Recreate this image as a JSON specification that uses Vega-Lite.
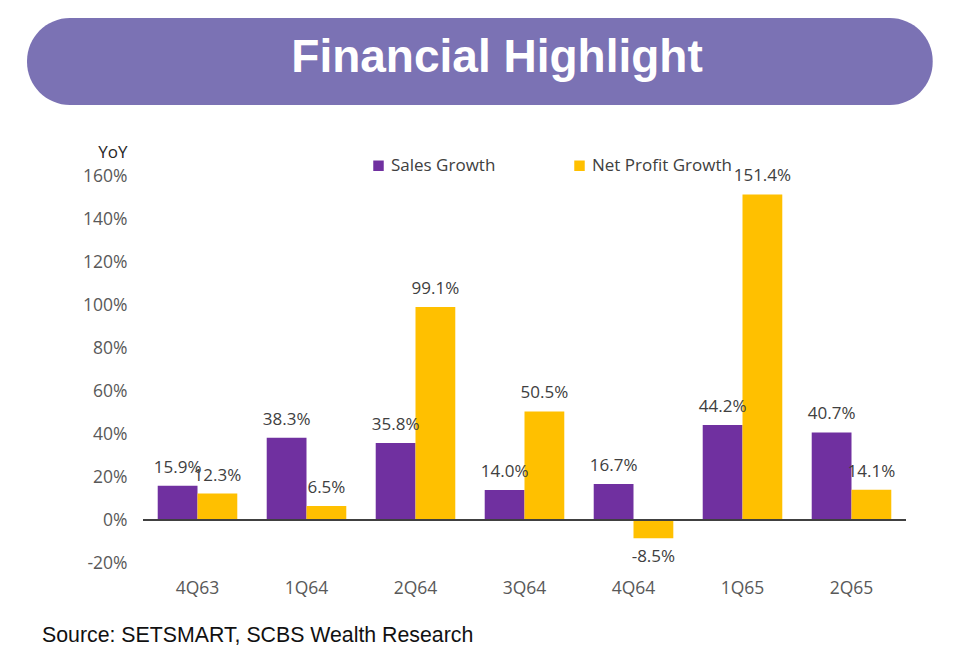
{
  "$schema": "https://vega.github.io/schema/vega-lite/v6.json",
  "autosize": {"type": "pad"},
  "padding": {"left": 27, "right": 33, "top": 18, "bottom": 8},
  "background": "white",
  "spacing": 38,
  "title": {
    "text": "Source: SETSMART, SCBS Wealth Research",
    "orient": "bottom",
    "anchor": "start",
    "frame": "bounds",
    "dx": 15,
    "offset": 28,
    "font": "Liberation Sans",
    "fontSize": 21.3,
    "fontWeight": "normal",
    "color": "#111111"
  },
  "vconcat": [
    {
      "width": 763,
      "height": 87,
      "data": {"values": [{}]},
      "layer": [
        {
          "mark": {"type": "rect", "color": "#7b72b4", "cornerRadius": 43},
          "encoding": {
            "x": {"datum": -15.2, "type": "quantitative", "scale": {"domain": [0, 100], "nice": false, "zero": false}, "axis": null},
            "x2": {"datum": 103.5},
            "y": {"datum": 0, "type": "quantitative", "scale": {"domain": [0, 1], "nice": false}, "axis": null},
            "y2": {"datum": 1}
          }
        },
        {
          "mark": {"type": "text", "text": "Financial Highlight", "font": "Liberation Sans", "fontWeight": "bold", "fontSize": 46, "color": "white", "align": "center", "baseline": "alphabetic"},
          "encoding": {
            "x": {"datum": 46.4, "type": "quantitative"},
            "y": {"datum": 0.38, "type": "quantitative"}
          }
        }
      ]
    },
    {
      "width": 763,
      "height": 387,
      "data": {
        "values": [
          {"quarter": "4Q63", "series": "Sales Growth", "value": 0.159},
          {"quarter": "4Q63", "series": "Net Profit Growth", "value": 0.123},
          {"quarter": "1Q64", "series": "Sales Growth", "value": 0.383},
          {"quarter": "1Q64", "series": "Net Profit Growth", "value": 0.065},
          {"quarter": "2Q64", "series": "Sales Growth", "value": 0.358},
          {"quarter": "2Q64", "series": "Net Profit Growth", "value": 0.991},
          {"quarter": "3Q64", "series": "Sales Growth", "value": 0.140},
          {"quarter": "3Q64", "series": "Net Profit Growth", "value": 0.505},
          {"quarter": "4Q64", "series": "Sales Growth", "value": 0.167},
          {"quarter": "4Q64", "series": "Net Profit Growth", "value": -0.085},
          {"quarter": "1Q65", "series": "Sales Growth", "value": 0.442},
          {"quarter": "1Q65", "series": "Net Profit Growth", "value": 1.514},
          {"quarter": "2Q65", "series": "Sales Growth", "value": 0.407},
          {"quarter": "2Q65", "series": "Net Profit Growth", "value": 0.141}
        ]
      },
      "encoding": {
        "x": {
          "field": "quarter",
          "type": "nominal",
          "sort": null,
          "scale": {"paddingInner": 0.27, "paddingOuter": 0.135},
          "axis": {"title": null, "labelAngle": 0, "ticks": false, "domain": false, "labelPadding": 16, "labelFontSize": 17.5, "labelColor": "#595959"}
        },
        "xOffset": {"field": "series", "type": "nominal", "sort": ["Sales Growth", "Net Profit Growth"]},
        "y": {
          "field": "value",
          "type": "quantitative",
          "scale": {"domain": [-0.2, 1.6], "nice": false},
          "axis": {
            "values": [-0.2, 0, 0.2, 0.4, 0.6, 0.8, 1.0, 1.2, 1.4, 1.6],
            "format": ".0%",
            "grid": false,
            "domain": false,
            "ticks": false,
            "labelPadding": 16,
            "labelFontSize": 17.5,
            "labelColor": "#595959",
            "title": "YoY",
            "titleAngle": 0,
            "titleAlign": "right",
            "titleBaseline": "middle",
            "titleX": -16,
            "titleY": -24,
            "titleFontSize": 17,
            "titleFontWeight": "normal",
            "titleColor": "#262626"
          }
        },
        "color": {
          "field": "series",
          "type": "nominal",
          "scale": {"domain": ["Sales Growth", "Net Profit Growth"], "range": ["#7030a0", "#ffc000"]},
          "legend": {
            "title": null,
            "orient": "none",
            "direction": "horizontal",
            "legendX": 227,
            "legendY": 139,
            "padding": 0,
            "symbolType": "square",
            "symbolSize": 110,
            "symbolStrokeWidth": 0,
            "labelFontSize": 17,
            "labelColor": "#404040",
            "labelOffset": 4,
            "columnPadding": 75
          }
        }
      },
      "layer": [
        {"mark": {"type": "bar"}},
        {
          "transform": [{"filter": "datum.value >= 0"}],
          "mark": {"type": "text", "baseline": "alphabetic", "dy": -13, "fontSize": 17, "color": "#404040"},
          "encoding": {"text": {"field": "value", "type": "quantitative", "format": ".1%"}, "color": {"value": "#404040"}}
        },
        {
          "transform": [{"filter": "datum.value < 0"}],
          "mark": {"type": "text", "baseline": "top", "dy": 11, "fontSize": 17, "color": "#404040"},
          "encoding": {"text": {"field": "value", "type": "quantitative", "format": ".1%"}, "color": {"value": "#404040"}}
        },
        {
          "mark": {"type": "rule", "color": "#404040", "strokeWidth": 1.2},
          "encoding": {"x": {"value": 0}, "x2": {"value": 763}, "y": {"datum": 0, "type": "quantitative"}, "xOffset": null, "color": {"value": "#404040"}}
        }
      ]
    }
  ],
  "config": {
    "font": "Open Sans",
    "view": {"stroke": null},
    "locale": {
      "number": {"decimal": ".", "thousands": ",", "grouping": [3], "currency": ["$", ""], "minus": "-"}
    },
    "axis": {"labelFont": "Open Sans", "titleFont": "Open Sans"},
    "legend": {"labelFont": "Open Sans"}
  }
}
